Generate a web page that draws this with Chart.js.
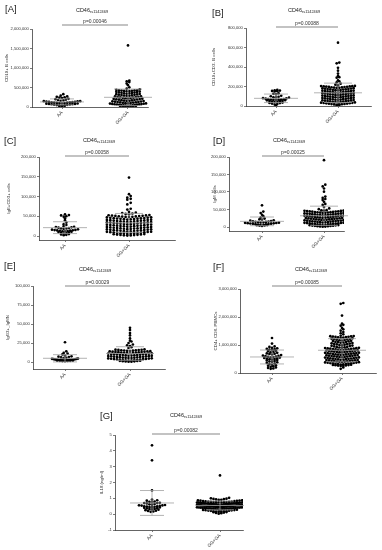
<!DOCTYPE html>
<html><head><meta charset="utf-8">
<script src="https://cdn.jsdelivr.net/npm/chart.js@4.4.0/dist/chart.umd.min.js"></script>
<style>
html,body{margin:0;padding:0;background:#fff;}
body{width:382px;height:550px;position:relative;overflow:hidden;}
canvas{position:absolute;}
</style></head><body>
<script>
// ---------- DATA ----------
const CATEGORIES = ['AA', 'GG+GA'];
const TITLE_MAIN = 'CD46';
const TITLE_SUB = 'rs1142469';
const LETTERS = ['[A]', '[B]', '[C]', '[D]', '[E]', '[F]', '[G]'];
const Y_LABELS = ['CD19+ B cells', 'CD19+CD3- B cells', 'IgE+CD3+ cells', 'IgM cells', 'IgG3+_IgMN', 'CD4+ CD8- PBMCs', 'IL18 (ng/ml)'];
const P_VALUES = ['p=0.00046', 'p=0.00088', 'p=0.00058', 'p=0.00025', 'p=0.00029', 'p=0.00085', 'p=0.00082'];
const Y_TICKS_A = [0, 500000, 1000000, 1500000, 2000000];
const Y_TICKS_B = [0, 200000, 400000, 600000, 800000];
const Y_TICKS_C = [0, 50000, 100000, 150000, 200000];
const Y_TICKS_D = [0, 50000, 100000, 150000, 200000];
const Y_TICKS_E = [0, 25000, 50000, 75000, 100000];
const Y_TICKS_F = [0, 1000000, 2000000, 3000000];
const Y_TICKS_G = [-1, 0, 1, 2, 3, 4, 5];

const AA_A = [330000, 290000, 270000, 260000, 250000, 240000, 230000, 210000, 200000, 190000, 180000, 170000, 160000, 150000, 150000, 145000, 140000, 135000, 130000, 125000, 120000, 120000, 115000, 110000, 105000, 100000, 100000, 95000, 90000, 85000, 80000, 80000, 75000, 70000, 65000, 60000, 55000, 50000, 45000, 40000, 35000, 30000, 25000, 20000];
const GG_A = [1580000, 680000, 655000, 640000, 600000, 560000, 505000, 470000, 455000, 440000,
 430000, 428000, 424000, 420000, 415000, 412000, 405000, 401000, 396000, 390000, 384000, 378000, 371000, 366000, 358000, 352000, 347000, 340000, 334000, 329000, 322000, 316000, 311000, 305000, 298000, 293000, 287000, 281000, 276000, 270000, 263000, 258000, 252000, 247000, 241000, 236000, 230000, 225000, 219000, 214000, 208000, 203000, 197000, 192000, 187000, 181000, 176000, 171000, 166000, 160000, 155000, 151000, 146000, 141000, 136000, 131000, 127000, 122000, 117000, 113000, 108000, 104000, 99000, 95000, 91000, 87000, 83000, 79000, 75000, 71000, 67000, 63000, 60000, 56000, 52000, 49000, 45000, 42000, 38000, 35000, 31000, 28000, 24000, 21000, 17000, 14000, 10000, 7000];

const AA_B = [165000, 160000, 158000, 155000, 152000, 150000, 130000, 125000, 120000, 105000, 100000, 95000, 90000, 88000, 85000, 80000, 78000, 75000, 72000, 70000, 68000, 66000, 65000, 63000, 62000, 60000, 58000, 55000, 52000, 50000, 45000, 42000, 40000, 35000, 32000, 30000, 25000, 20000, 15000, 10000];
const GG_B = [650000, 445000, 438000, 392000, 362000, 333000, 308000, 296000, 291000, 263000, 254000, 243000, 229000, 219000, 211000,
 206000, 204500, 203000, 201800, 200500, 199000, 197600, 196000, 194300, 192500, 190800, 188600, 186900, 185000, 183200, 181000, 179300, 177500, 175600, 173400, 171800, 169900, 168000, 166100, 164200, 162500, 160300, 158400, 156700, 154800, 152600, 150900, 149000, 147100, 145300, 143200, 141400, 139600, 137500, 135800, 133900, 132000, 130100, 128300, 126200, 124500, 122600, 120700, 118800, 116900, 115000, 113100, 111300, 109200, 107400, 105600, 103700, 101800, 99900, 98000, 96100, 94300, 92400, 90500, 88600, 86800, 84900, 83000, 81100, 79300, 77400, 75500, 73600, 71800, 69900, 68000, 66100, 64300, 62400, 60500, 58700, 56800, 54900, 53100, 51200, 49400, 47500, 45600, 43800, 41900, 40100, 38200, 36400, 34500, 32700, 30800, 29000, 27100, 25300, 23400, 21600, 19800, 17900, 16100, 14300, 12400, 10600, 8800];

const AA_C = [55000, 53000, 52000, 50000, 49000, 45000, 40000, 34000, 30000, 28000, 25000, 23000, 22500, 22000, 21000, 20000, 19500, 19000, 18000, 17000, 16000, 15500, 15000, 14500, 14000, 13500, 13000, 12500, 12000, 11500, 11000, 10000, 9000, 8000, 7000, 6000, 5000, 4000, 3000, 2000];
const GG_C = [148000, 106000, 101000, 97000, 94000, 92000, 84000, 80000, 69000, 67000, 61000, 59000, 58000, 57000, 56000, 55000,
 53000, 52500, 52100, 51700, 51200, 50800, 50400, 49900, 49500, 49100, 48600, 48200, 47800, 47300, 46900, 46500, 46000, 45600, 45200, 44700, 44300, 43900, 43400, 43000, 42600, 42100, 41700, 41300, 40800, 40400, 40000, 39500, 39100, 38700, 38200, 37800, 37400, 36900, 36500, 36100, 35600, 35200, 34800, 34300, 33900, 33500, 33000, 32600, 32200, 31700, 31300, 30900, 30400, 30000, 29600, 29100, 28700, 28300, 27800, 27400, 27000, 26500, 26100, 25700, 25200, 24800, 24400, 23900, 23500, 23100, 22600, 22200, 21800, 21300, 20900, 20500, 20000, 19600, 19200, 18700, 18300, 17900, 17400, 17000, 16600, 16100, 15700, 15300, 14800, 14400, 14000, 13500, 13100, 12700, 12200, 11800, 11400, 10900, 10500, 10100, 9600, 9200, 8800, 8300, 7900, 7500, 7000, 6600, 6200, 5700, 5300, 4900, 4400, 4000, 3600, 3100, 2700, 2300, 1800, 1400, 1000];

const AA_D = [62000, 44000, 40000, 35000, 31000, 27000, 24000, 22000, 21000, 19000, 18000, 17000, 16000, 15500, 15000, 14500, 14000, 13500, 13000, 12500, 12000, 11500, 11000, 10500, 10000, 9500, 9000, 8500, 8000, 7500, 7000, 6500, 6000, 5500, 5000, 4500, 4000, 3000];
const GG_D = [191000, 121000, 116000, 110000, 101000, 87000, 83000, 80000, 77000, 72000, 66000, 63000, 57000, 53000, 51000,
 48000, 47600, 47100, 46700, 46300, 45800, 45400, 45000, 44500, 44100, 43700, 43200, 42800, 42400, 41900, 41500, 41100, 40600, 40200, 39800, 39300, 38900, 38500, 38000, 37600, 37200, 36700, 36300, 35900, 35400, 35000, 34600, 34100, 33700, 33300, 32800, 32400, 32000, 31500, 31100, 30700, 30200, 29800, 29400, 28900, 28500, 28100, 27600, 27200, 26800, 26300, 25900, 25500, 25000, 24600, 24200, 23700, 23300, 22900, 22400, 22000, 21600, 21100, 20700, 20300, 19800, 19400, 19000, 18500, 18100, 17700, 17200, 16800, 16400, 15900, 15500, 15100, 14600, 14200, 13800, 13300, 12900, 12500, 12000, 11600, 11200, 10700, 10300, 9900, 9400, 9000, 8600, 8100, 7700, 7300, 6800, 6400, 6000, 5500, 5100, 4700, 4200, 3800, 3400, 2900, 2500, 2100, 1600, 1200, 800];

const AA_E = [26000, 14000, 12000, 11000, 10000, 8500, 7500, 7000, 6500, 6000, 5500, 5000, 4500, 4200, 4000, 3800, 3600, 3400, 3200, 3000, 2900, 2800, 2700, 2600, 2500, 2400, 2300, 2200, 2100, 2000, 1900, 1800, 1700, 1600, 1500, 1400, 1200, 1000];
const GG_E = [45000, 42000, 38000, 35000, 31000, 28000, 27000, 25000, 23000, 22000, 21000, 19500, 18500,
 16500, 16250, 16100, 15850, 15700, 15450, 15300, 15100, 14850, 14700, 14500, 14250, 14100, 13900, 13650, 13500, 13300, 13050, 12900, 12700, 12450, 12300, 12100, 11850, 11700, 11500, 11250, 11100, 10900, 10650, 10500, 10300, 10050, 9900, 9700, 9450, 9300, 9100, 8850, 8700, 8500, 8250, 8100, 7900, 7650, 7500, 7300, 7050, 6900, 6700, 6450, 6300, 6100, 5850, 5700, 5500, 5250, 5100, 4900, 4650, 4500, 4300, 4050, 3900, 3700, 3450, 3300, 3100, 2850, 2700, 2500, 2250, 2100, 1900, 1650, 1500, 1300, 1050, 900, 700, 450, 300];

const AA_F = [1250000, 1050000, 950000, 930000, 900000, 880000, 860000, 850000, 840000, 820000, 800000, 780000, 760000, 740000, 720000, 700000, 690000, 680000, 660000, 640000, 620000, 610000, 600000, 590000, 580000, 570000, 560000, 550000, 540000, 520000, 510000, 500000, 490000, 480000, 460000, 450000, 430000, 410000, 400000, 380000, 360000, 340000, 320000, 300000, 280000, 260000, 240000, 220000, 200000, 180000, 160000, 150000];
const GG_F = [2500000, 2470000, 2050000, 1760000, 1720000, 1690000, 1610000, 1560000, 1510000, 1460000, 1420000, 1380000,
 1330000, 1320000, 1315000, 1310000, 1300000, 1295000, 1290000, 1280000, 1270000, 1260000, 1250000, 1240000, 1225000, 1215000, 1205000, 1200000, 1190000, 1180000, 1170000, 1160000, 1150000, 1140000, 1130000, 1115000, 1105000, 1100000, 1090000, 1080000, 1070000, 1060000, 1050000, 1040000, 1030000, 1020000, 1010000, 1000000, 990000, 980000, 970000, 960000, 950000,
 930000, 924000, 917000, 911000, 905000, 898000, 892000, 886000, 879000, 873000, 867000, 860000, 854000, 848000, 841000, 835000, 829000, 822000, 816000, 810000, 803000, 797000, 791000, 784000, 778000, 772000, 765000, 759000, 753000, 746000, 740000, 734000, 727000, 721000, 715000, 708000, 702000, 696000, 689000, 683000, 677000, 670000, 664000, 658000, 651000, 645000, 639000, 632000, 626000, 620000, 613000, 607000, 601000, 594000, 588000, 582000, 575000, 569000, 563000, 556000, 550000, 544000, 537000, 531000, 525000, 518000, 512000, 506000, 499000, 493000, 487000, 480000, 474000, 468000, 461000, 455000, 449000, 442000, 436000, 430000, 423000, 417000, 411000, 404000, 398000, 392000, 385000, 379000, 373000, 366000, 360000, 354000, 347000, 341000, 335000, 328000, 322000, 316000, 309000, 303000, 297000, 290000, 284000, 278000, 271000, 265000, 259000, 252000, 200000, 150000];

const AA_G = [4.35, 3.4, 1.5, 0.92, 0.88, 0.85, 0.8, 0.78, 0.75, 0.72, 0.7, 0.7, 0.68, 0.65, 0.62, 0.6, 0.58, 0.56, 0.55, 0.54, 0.52, 0.5, 0.5, 0.48, 0.47, 0.45, 0.44, 0.42, 0.4, 0.38, 0.36, 0.34, 0.32, 0.3, 0.28, 0.25, 0.22, 0.2, 0.17, 0.15];
const GG_G = [2.45, 1.03, 1.0, 0.98, 0.96, 0.95, 0.93, 0.91, 0.9, 0.88, 0.87, 0.86, 0.85, 0.84, 0.83, 0.82, 0.81, 0.8, 0.79, 0.78, 0.775, 0.77, 0.765, 0.76, 0.755, 0.75, 0.745, 0.74, 0.735, 0.73, 0.725, 0.72, 0.715, 0.71, 0.705, 0.7, 0.695, 0.69, 0.685, 0.68, 0.675, 0.67, 0.665, 0.66, 0.655, 0.65, 0.645, 0.64, 0.635, 0.63, 0.625, 0.62, 0.615, 0.61, 0.605, 0.6, 0.595, 0.59, 0.585, 0.58, 0.575, 0.57, 0.565, 0.56, 0.555, 0.55, 0.545, 0.54, 0.535, 0.53, 0.525, 0.52, 0.515, 0.51, 0.505, 0.5, 0.495, 0.49, 0.485, 0.48, 0.475, 0.47, 0.465, 0.46, 0.455, 0.45, 0.445, 0.44, 0.435, 0.43, 0.425, 0.42, 0.415, 0.41, 0.405, 0.4, 0.395, 0.39, 0.385, 0.38, 0.375, 0.37, 0.365, 0.36, 0.355, 0.35, 0.345, 0.34, 0.335, 0.33, 0.32, 0.31, 0.3, 0.29, 0.28, 0.27, 0.26, 0.25, 0.24, 0.23, 0.22, 0.21, 0.2, 0.19, 0.18, 0.17, 0.16, 0.15, 0.13, 0.12, 0.1, 0.08, 0.06, 0.03];

// ---------- LAYOUT (pixel positions of the reference) ----------
const PANELS = [
 {canvas:[0,0,191,135], plot:{left:32,right:148,top:29,axis:107}, aaPx:62, ggPx:128, ticks:Y_TICKS_A, yLabelX:7, letter:[5,9], title:[92,10], barY:25, aa:AA_A, gg:GG_A, aaW:40, ggW:36},
 {canvas:[191,0,191,135], plot:{left:246,right:371,top:28,axis:106}, aaPx:276, ggPx:338, ticks:Y_TICKS_B, yLabelX:214, letter:[212,13], title:[304,10], barY:27, aa:AA_B, gg:GG_B, aaW:36, ggW:40},
 {canvas:[0,135,191,135], plot:{left:39,right:175,top:157,axis:240}, aaPx:65, ggPx:129, ticks:Y_TICKS_C, yLabelX:9, letter:[4,141], title:[99,140], barY:156, aa:AA_C, gg:GG_C, aaW:36, ggW:60, ggGap:3.4, zeroPx:236},
 {canvas:[191,135,191,135], plot:{left:229,right:344,top:157,axis:231}, aaPx:262, ggPx:324, ticks:Y_TICKS_D, yLabelX:215, letter:[213,141], title:[289,140], barY:156, aa:AA_D, gg:GG_D, aaW:42, ggW:40, zeroPx:227},
 {canvas:[0,258,191,137], plot:{left:33,right:165,top:286,axis:369}, aaPx:65, ggPx:130, ticks:Y_TICKS_E, yLabelX:8, letter:[4,266], title:[95,269], barY:286, aa:AA_E, gg:GG_E, aaW:26, ggW:50, ggGap:2.9, zeroPx:362},
 {canvas:[191,258,191,137], plot:{left:240,right:376,top:289,axis:373}, aaPx:272, ggPx:342, ticks:Y_TICKS_F, yLabelX:216, letter:[213,267], title:[311,269], barY:286, aa:AA_F, gg:GG_F, aaW:46, ggW:42},
 {canvas:[80,398,230,152], plot:{left:115,right:243,top:435,axis:530}, aaPx:152, ggPx:220, ticks:Y_TICKS_G, yLabelX:102, letter:[100,416], title:[186,415], barY:434, aa:AA_G, gg:GG_G, aaW:38, ggW:46}
];

const FONT = '"Liberation Sans", Arial, sans-serif';

function swarm(vals, cx, yMin, pxY, pxX, maxW, gap) {
  const ROW = 2.4, GAP = gap || 2.6;
  const bins = new Map();
  [...vals].sort((a, b) => a - b).forEach(v => {
    const k = Math.round((v - yMin) * pxY / ROW);
    if (!bins.has(k)) bins.set(k, []);
    bins.get(k).push(v);
  });
  const pts = [];
  bins.forEach(arr => {
    const n = arr.length;
    const sp = n > 1 ? Math.min(GAP, maxW / (n - 1)) : 0;
    const offs = [];
    for (let i = 0; i < n; i++) offs.push((i - (n - 1) / 2) * sp);
    offs.sort((a, b) => Math.abs(a) - Math.abs(b) || a - b);
    arr.forEach((v, i) => pts.push({x: cx + offs[i] / pxX, y: v}));
  });
  return pts;
}

function stats(vals) {
  const n = vals.length, m = vals.reduce((a, b) => a + b, 0) / n;
  const sd = Math.sqrt(vals.reduce((a, b) => a + (b - m) * (b - m), 0) / (n - 1));
  return {m, sd};
}

PANELS.forEach((P, idx) => {
  const [cx0, cy0, cw, ch] = P.canvas;
  const cv = document.createElement('canvas');
  cv.width = cw; cv.height = ch;
  cv.style.left = cx0 + 'px'; cv.style.top = cy0 + 'px';
  cv.style.width = cw + 'px'; cv.style.height = ch + 'px';
  document.body.appendChild(cv);

  const yMaxV = P.ticks[P.ticks.length - 1];
  const yTickMin = P.ticks[0];
  const zeroPx = P.zeroPx !== undefined ? P.zeroPx : P.plot.axis;
  const pxY = (zeroPx - P.plot.top) / (yMaxV - yTickMin);
  const yMinV = yTickMin - (P.plot.axis - zeroPx) / pxY;
  const pxX = P.ggPx - P.aaPx;
  const xMin = 1 - (P.aaPx - P.plot.left) / pxX;
  const xMax = 2 + (P.plot.right - P.ggPx) / pxX;

  const groups = [
    {x: 1, vals: P.aa, mw: 22, cw: 12},
    {x: 2, vals: P.gg, mw: 24, cw: 14}
  ];

  const decor = {
    id: 'decor' + idx,
    afterDatasetsDraw(chart) {
      const ctx = chart.ctx, xs = chart.scales.x, ys = chart.scales.y;
      ctx.save();
      ctx.strokeStyle = '#a0a0a0'; ctx.lineWidth = 0.8;
      groups.forEach(g => {
        const s = stats(g.vals);
        const x = xs.getPixelForValue(g.x);
        const ym = ys.getPixelForValue(s.m), yt = ys.getPixelForValue(s.m + s.sd), yb = ys.getPixelForValue(s.m - s.sd);
        ctx.beginPath();
        ctx.moveTo(x - g.mw, ym); ctx.lineTo(x + g.mw, ym);
        ctx.moveTo(x, yt); ctx.lineTo(x, yb);
        ctx.moveTo(x - g.cw, yt); ctx.lineTo(x + g.cw, yt);
        ctx.moveTo(x - g.cw, yb); ctx.lineTo(x + g.cw, yb);
        ctx.stroke();
      });
      ctx.restore();
    },
    afterDraw(chart) {
      const ctx = chart.ctx, xs = chart.scales.x;
      ctx.save();
      ctx.fillStyle = '#222';
      ctx.font = '9.5px ' + FONT;
      ctx.textAlign = 'left'; ctx.textBaseline = 'middle';
      ctx.fillText(LETTERS[idx], P.letter[0] - cx0, P.letter[1] - cy0);
      ctx.font = '5.5px ' + FONT;
      const w1 = ctx.measureText(TITLE_MAIN).width;
      ctx.font = '3.9px ' + FONT;
      const w2 = ctx.measureText(TITLE_SUB).width;
      let tx = P.title[0] - cx0 - (w1 + w2) / 2, ty = P.title[1] - cy0;
      ctx.font = '5.5px ' + FONT;
      ctx.fillText(TITLE_MAIN, tx, ty);
      ctx.font = '3.9px ' + FONT;
      ctx.fillText(TITLE_SUB, tx + w1, ty + 1.6);
      const x1 = xs.getPixelForValue(1), x2 = xs.getPixelForValue(2);
      const by = P.barY - cy0;
      ctx.strokeStyle = '#555'; ctx.lineWidth = 0.7;
      ctx.beginPath(); ctx.moveTo(x1, by); ctx.lineTo(x2, by); ctx.stroke();
      ctx.font = '5px ' + FONT; ctx.fillStyle = '#333';
      ctx.textAlign = 'center'; ctx.textBaseline = 'bottom';
      ctx.fillText(P_VALUES[idx], (x1 + x2) / 2, by - 1);
      ctx.restore();
    }
  };

  new Chart(cv, {
    type: 'scatter',
    data: {
      datasets: [
        {label: CATEGORIES[0], data: swarm(P.aa, 1, yMinV, pxY, pxX, P.aaW)},
        {label: CATEGORIES[1], data: swarm(P.gg, 2, yMinV, pxY, pxX, P.ggW, P.ggGap)}
      ]
    },
    options: {
      responsive: false, animation: false, devicePixelRatio: 1,
      events: [],
      elements: {point: {radius: 1.35, hoverRadius: 1.35, backgroundColor: '#000', borderWidth: 0, pointStyle: 'circle'}},
      layout: {padding: {left: 0, top: P.plot.top - cy0, right: cx0 + cw - P.plot.right, bottom: 0}},
      plugins: {legend: {display: false}, tooltip: {enabled: false}},
      scales: {
        x: {
          type: 'linear', min: xMin, max: xMax,
          afterBuildTicks: s => { s.ticks = [{value: 1}, {value: 2}]; },
          afterFit: s => { s.height = cy0 + ch - P.plot.axis; },
          ticks: {callback: v => CATEGORIES[v - 1], minRotation: 45, maxRotation: 45, autoSkip: false,
                  font: {size: 4.6, family: FONT}, color: '#333', padding: 1},
          grid: {drawOnChartArea: false, drawTicks: true, tickLength: 2, color: '#222', lineWidth: 0.6},
          border: {display: true, color: '#222', width: 0.7}
        },
        y: {
          type: 'linear', min: yMinV, max: yMaxV,
          afterBuildTicks: s => { s.ticks = P.ticks.map(v => ({value: v})); },
          afterFit: s => { s.width = P.plot.left - cx0; },
          ticks: {callback: v => v.toLocaleString('en-US'), font: {size: 4.1, family: FONT}, color: '#333', padding: 1.2, autoSkip: false},
          grid: {drawOnChartArea: false, drawTicks: true, tickLength: 2, color: '#222', lineWidth: 0.6},
          border: {display: true, color: '#222', width: 0.7},
          title: {display: true, text: Y_LABELS[idx], font: {size: 4.4, family: FONT}, color: '#333',
                  padding: {top: Math.max(0, P.yLabelX - cx0 - 2.64), bottom: 0}}
        }
      }
    },
    plugins: [decor]
  });
});
</script>
</body></html>
